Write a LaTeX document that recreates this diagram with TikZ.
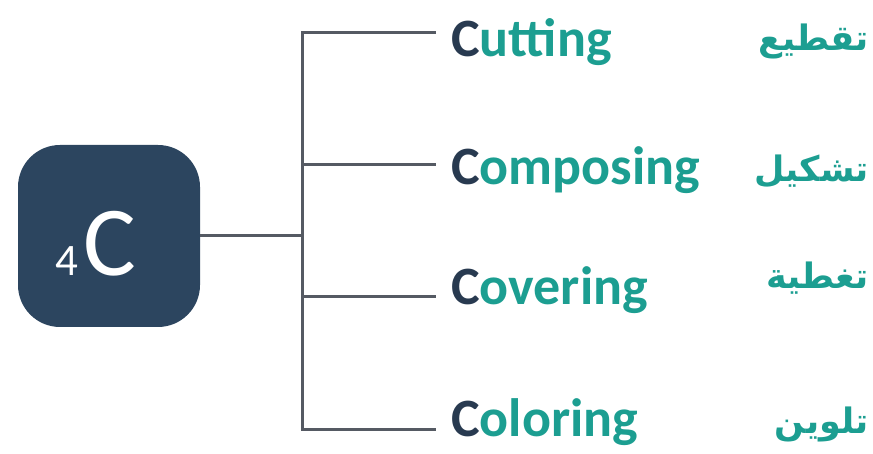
\documentclass[tikz,border=0pt]{standalone}
\usepackage{fontspec}
\setmainfont{Carlito}
\newfontfamily\arabicfont[Script=Arabic]{DejaVu Sans}
\TeXXeTstate=1
\usepackage{tikz}
\usetikzlibrary{positioning}
\definecolor{hubnavy}{RGB}{44,69,95}
\definecolor{capnavy}{RGB}{40,58,80}
\definecolor{stemgray}{RGB}{85,90,99}
\definecolor{itemteal}{RGB}{28,158,145}

\begin{document}
\begin{tikzpicture}[
    x=1pt, y=1pt,
    hub/.style={rectangle, rounded corners=42pt, fill=hubnavy, minimum width=182pt, minimum height=182pt, inner sep=0pt},
    hublabel/.style={anchor=base, inner sep=0pt, text=white, font=\fontsize{99}{99}\selectfont},
    item/.style={anchor=base west, inner sep=0pt, text=itemteal, font=\fontsize{54}{54}\selectfont\bfseries},
    arabic/.style={anchor=base east, inner sep=0pt, text=itemteal, font=\arabicfont\bfseries\fontsize{35}{35}\selectfont},
    stem/.style={draw=stemgray, line width=3pt}
]
\useasboundingbox (0,0) rectangle (873,454);

% Centre box
\node[hub] (hub) at (109,218) {};
\node[hublabel] (hubtext) at (96,178) {{\fontsize{45}{45}\selectfont 4}\hspace{5pt}C};

% Branch points
\coordinate (junc) at (302,218);
\coordinate (e1) at (436,421);
\coordinate (e2) at (436,289);
\coordinate (e3) at (436,157);
\coordinate (e4) at (436,24);

% Tree lines
\draw[stem] (hub.east) -- (junc);
\draw[stem] (e1) -| (junc) |- (e4);
\draw[stem] (junc |- e2) -- (e2);
\draw[stem] (junc |- e3) -- (e3);

% English words
\node[item] (cut) at (451,397) {{\color{capnavy}C}utting};
\node[item] (comp) at (451,269) {{\color{capnavy}C}omposing};
\node[item] (cov) at (451,149) {{\color{capnavy}C}overing};
\node[item] (col) at (451,17) {{\color{capnavy}C}oloring};

% Arabic words
\node[arabic] (cutar) at (869,403) {\beginR تقطيع\endR};
\node[arabic] (compar) at (869,272) {\beginR تشكيل\endR};
\node[arabic] (covar) at (869,165) {\beginR تغطية\endR};
\node[arabic] (colar) at (869,20) {\beginR تلوين\endR};

\end{tikzpicture}
\end{document}
